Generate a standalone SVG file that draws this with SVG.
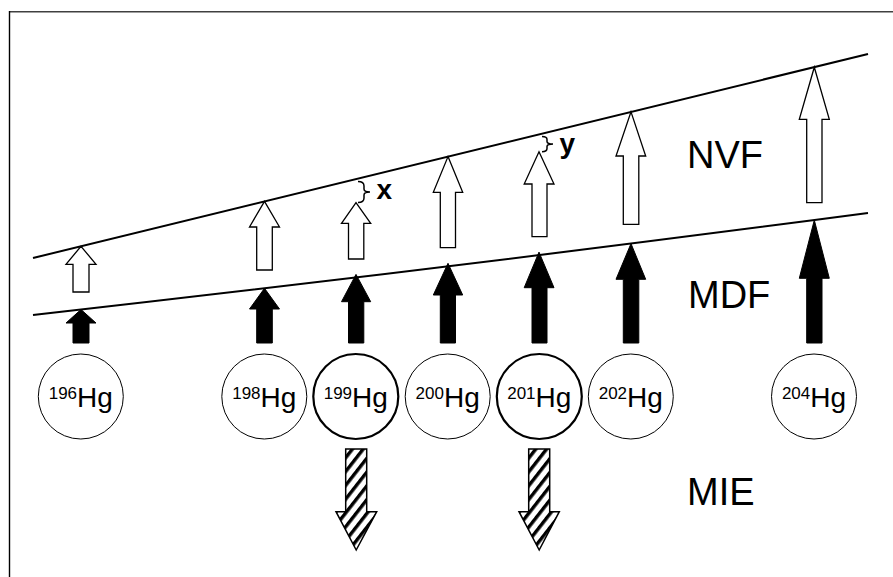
<svg xmlns="http://www.w3.org/2000/svg" width="893" height="577" viewBox="0 0 893 577">
  <defs>
    <pattern id="hatch" patternUnits="userSpaceOnUse" width="8.5" height="8.5" patternTransform="rotate(38)">
      <rect x="0" y="0" width="8.5" height="8.5" fill="#fff"/>
      <rect x="0" y="0" width="3.4" height="8.5" fill="#000"/>
    </pattern>
  </defs>
  <style>
    .frame-top { stroke: #404040; stroke-width: 1.6; fill: none; }
    .frame-left { stroke: #000; stroke-width: 1.4; fill: none; }
    .band { stroke: #000; stroke-width: 2; fill: none; }
    .white { fill: #fff; stroke: #000; stroke-width: 1.3; stroke-linejoin: miter; }
    .black { fill: #000; stroke: #000; stroke-width: 1; }
    .mie { fill: url(#hatch); stroke: #000; stroke-width: 1.5; }
    .iso { fill: #fff; stroke: #000; stroke-width: 1; }
    .iso.bold { stroke-width: 2.2; }
    .lbl { font-family: "Liberation Sans", Arial, sans-serif; font-size: 28px; fill: #000; }
    .sup { font-size: 17px; }
    .big { font-family: "Liberation Sans", Arial, sans-serif; font-size: 38px; fill: #000; }
    .gap { font-family: "Liberation Sans", Arial, sans-serif; font-size: 28px; font-weight: bold; fill: #000; }
    .brace { stroke: #000; stroke-width: 1.5; fill: none; }
  </style>

  <g id="frame">
    <line class="frame-top" x1="9" y1="11.7" x2="893" y2="11.7"/>
    <line class="frame-left" x1="9.5" y1="11" x2="9.5" y2="577"/>
  </g>

  <g id="connectors">
    <line id="nvf-line" class="band" x1="33" y1="258" x2="868" y2="54"/>
    <path id="mdf-line" class="band" d="M33,315 Q450.5,268 868,213"/>
  </g>

  <g id="nvf-arrows">
    <polygon class="white" points="81,246.3 96,264.3 89,264.3 89,292 73,292 73,264.3 66,264.3"/>
    <polygon class="white" points="264.5,201.4 279.5,227 272.3,227 272.3,270 256.7,270 256.7,227 249.5,227"/>
    <polygon class="white" points="356,202.7 370.7,223.3 363.8,223.3 363.8,259 348.5,259 348.5,223.3 341.5,223.3"/>
    <polygon class="white" points="448,156.6 462.7,192.3 455.5,192.3 455.5,247.7 440.3,247.7 440.3,192.3 433.3,192.3"/>
    <polygon class="white" points="539,151.7 554,184 547,184 547,236.7 532,236.7 532,184 524.2,184"/>
    <polygon class="white" points="631,111.9 645.7,156 638.8,156 638.8,224.3 623.3,224.3 623.3,156 616,156"/>
    <polygon class="white" points="814.3,67.2 829.3,119.3 822,119.3 822,202.7 806.7,202.7 806.7,119.3 799.3,119.3"/>
  </g>

  <g id="mdf-arrows">
    <polygon class="black" points="81,309.5 96,323 89,323 89,343 73,343 73,323 66,323"/>
    <polygon class="black" points="264.5,288.3 279.5,309 272.3,309 272.3,343 256.7,343 256.7,309 249.5,309"/>
    <polygon class="black" points="356,274.4 370.7,301.7 363.8,301.7 363.8,343 348.5,343 348.5,301.7 341.5,301.7"/>
    <polygon class="black" points="448,263.3 462.7,295 455.5,295 455.5,343 440.3,343 440.3,295 433.3,295"/>
    <polygon class="black" points="539,252.1 554,287.7 547,287.7 547,343 532,343 532,287.7 524.2,287.7"/>
    <polygon class="black" points="631,243.6 645.7,279.3 638.8,279.3 638.8,343 623.3,343 623.3,279.3 616,279.3"/>
    <polygon class="black" points="814.3,220.1 829.3,278.3 822,278.3 822,343 806.7,343 806.7,278.3 799.3,278.3"/>
  </g>

  <g id="gap-x">
    <path class="brace" d="M358,181.5 Q364,181.5 364,186 L364,189 Q364,192 370,192 Q364,192 364,195 L364,198 Q364,202.5 358,202.5"/>
    <text class="gap" x="376.5" y="198.5">x</text>
  </g>
  <g id="gap-y">
    <path class="brace" d="M542,136.5 Q547,136.5 547,139.5 L547,141.5 Q547,144 553,144 Q547,144 547,146.5 L547,148.5 Q547,151.7 542,151.7"/>
    <text class="gap" x="559.5" y="153">y</text>
  </g>

  <g id="hg196">
    <circle class="iso" cx="80.8" cy="396.5" r="42.5"/>
    <text class="lbl" x="80.8" y="406.7" text-anchor="middle"><tspan class="sup" dy="-8">196</tspan><tspan dy="8">Hg</tspan></text>
  </g>
  <g id="hg198">
    <circle class="iso" cx="264.3" cy="396.5" r="42.5"/>
    <text class="lbl" x="264.3" y="406.7" text-anchor="middle"><tspan class="sup" dy="-8">198</tspan><tspan dy="8">Hg</tspan></text>
  </g>
  <g id="hg199">
    <circle class="iso bold" cx="355.8" cy="396.5" r="42.5"/>
    <text class="lbl" x="355.8" y="406.7" text-anchor="middle"><tspan class="sup" dy="-8">199</tspan><tspan dy="8">Hg</tspan></text>
  </g>
  <g id="hg200">
    <circle class="iso" cx="447.7" cy="396.5" r="42.5"/>
    <text class="lbl" x="447.7" y="406.7" text-anchor="middle"><tspan class="sup" dy="-8">200</tspan><tspan dy="8">Hg</tspan></text>
  </g>
  <g id="hg201">
    <circle class="iso bold" cx="539.3" cy="396.5" r="42.5"/>
    <text class="lbl" x="539.3" y="406.7" text-anchor="middle"><tspan class="sup" dy="-8">201</tspan><tspan dy="8">Hg</tspan></text>
  </g>
  <g id="hg202">
    <circle class="iso" cx="630.8" cy="396.5" r="42.5"/>
    <text class="lbl" x="630.8" y="406.7" text-anchor="middle"><tspan class="sup" dy="-8">202</tspan><tspan dy="8">Hg</tspan></text>
  </g>
  <g id="hg204">
    <circle class="iso" cx="814" cy="396.5" r="42.5"/>
    <text class="lbl" x="814" y="406.7" text-anchor="middle"><tspan class="sup" dy="-8">204</tspan><tspan dy="8">Hg</tspan></text>
  </g>

  <g id="mie-arrows">
    <polygon class="mie" points="345.7,449 366.7,449 366.7,511.7 376.7,511.7 356.2,550 336,511.7 345.7,511.7"/>
    <polygon class="mie" points="528.7,449 549.7,449 549.7,511.7 559.3,511.7 539.2,550 519,511.7 528.7,511.7"/>
  </g>

  <g id="labels">
    <text class="big" x="687" y="167.7">NVF</text>
    <text class="big" x="688" y="308.3">MDF</text>
    <text class="big" x="687" y="505">MIE</text>
  </g>
</svg>
